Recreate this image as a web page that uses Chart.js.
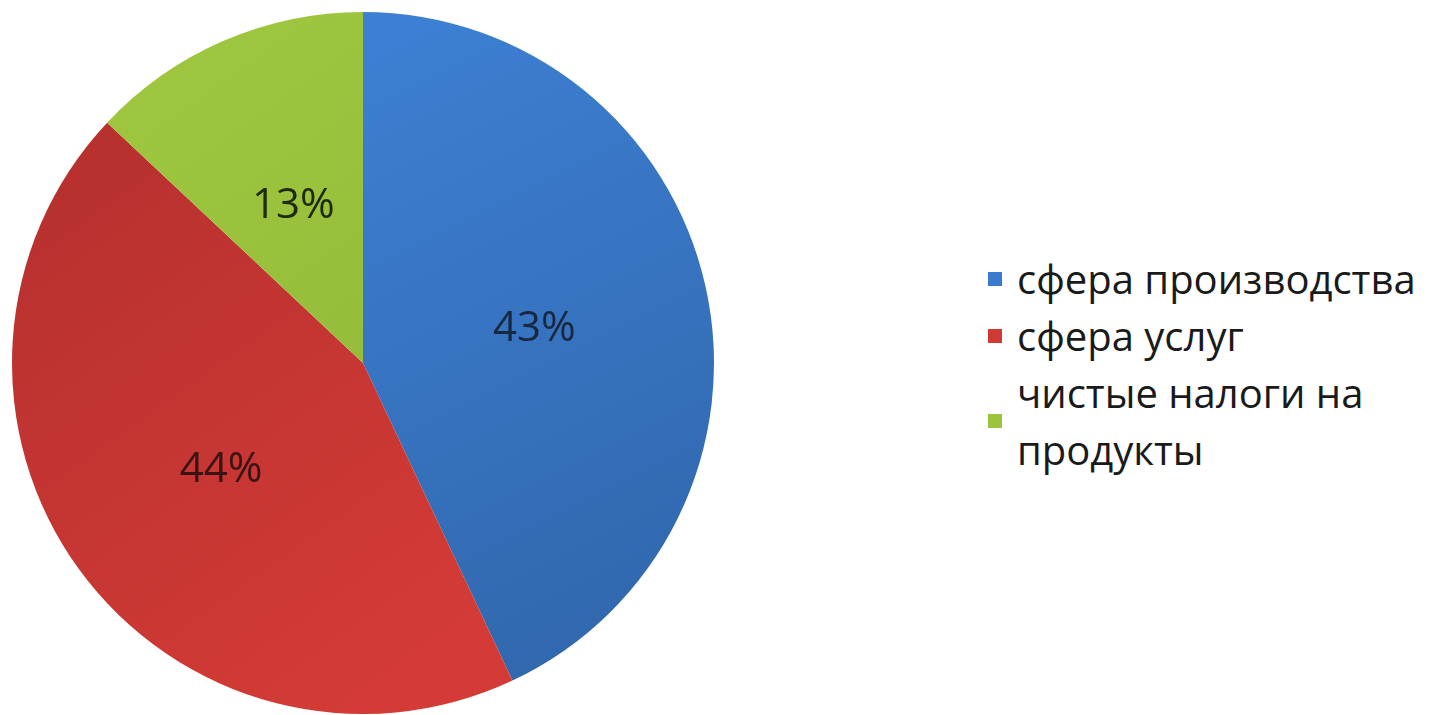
<!DOCTYPE html>
<html>
<head>
<meta charset="utf-8">
<script src="https://cdn.jsdelivr.net/npm/chart.js@4.4.1/dist/chart.umd.min.js"></script>
<style>
  html, body { margin: 0; padding: 0; background: #fff; }
  #page { position: relative; width: 1447px; height: 715px; overflow: hidden; }
  #pie { position: absolute; left: 12px; top: 12px; width: 702px; height: 702px; }
  #legend { position: absolute; left: 988px; top: 250px; font-family: "Open Sans", sans-serif; font-size: 40px; color: #1a1a1a; }
  .item { display: flex; align-items: center; line-height: 57px; }
  .box { width: 14px; height: 14px; margin-right: 15px; flex: none; }
</style>
</head>
<body>
<div id="page">
  <div id="pie"><canvas id="c"></canvas></div>
  <div id="legend"></div>
</div>
<script>
let labels = ['сфера производства', 'сфера услуг', 'чистые налоги на продукты'];
let legendLines = [['сфера производства'], ['сфера услуг'], ['чистые налоги на', 'продукты']];
let values = [43, 44, 13];
let colors = ['#3a7bcf', '#d03a35', '#9cc43c'];
let shades = [['#3d80d4', '#2f64a8'], ['#b8312f', '#d43b36'], ['#9dc53d', '#8fb638']];
let labelColors = ['#17283f', '#3a1414', '#1e2a0e'];

let legend = document.getElementById('legend');
legendLines.forEach((lines, i) => {
    let item = document.createElement('div');
    item.className = 'item';
    let box = document.createElement('div');
    box.className = 'box';
    box.style.background = colors[i];
    let txt = document.createElement('div');
    txt.innerHTML = lines.join('<br>');
    item.appendChild(box);
    item.appendChild(txt);
    legend.appendChild(item);
});

let pctLabels = {
    id: 'pctLabels',
    afterDatasetsDraw(chart) {
        let ctx = chart.ctx;
        let meta = chart.getDatasetMeta(0);
        ctx.save();
        ctx.font = '42px "Open Sans", sans-serif';
        ctx.textAlign = 'center';
        ctx.textBaseline = 'middle';
        meta.data.forEach((arc, i) => {
            let p = arc.getCenterPoint();
            ctx.fillStyle = labelColors[i];
            ctx.fillText(values[i] + '%', p.x, p.y + 4);
        });
        ctx.restore();
    }
};

let shade = function(context) {
    let chart = context.chart;
    let area = chart.chartArea;
    if (!area) return colors[context.dataIndex];
    let s = shades[context.dataIndex];
    let g;
    if (context.dataIndex === 0) {
        g = chart.ctx.createLinearGradient(area.left + area.width / 2, area.top, area.right, area.bottom);
    } else {
        g = chart.ctx.createLinearGradient(area.left, area.top + area.height * 0.3, area.left + area.width * 0.5, area.bottom);
    }
    g.addColorStop(0, s[0]);
    g.addColorStop(1, s[1]);
    return g;
};

new Chart(document.getElementById('c'), {
    type: 'pie',
    data: {
        labels: labels,
        datasets: [{
            data: values,
            backgroundColor: shade,
            borderWidth: 0
        }]
    },
    options: {
        responsive: true,
        maintainAspectRatio: false,
        animation: false,
        layout: { padding: 0 },
        plugins: {
            legend: { display: false },
            tooltip: { enabled: false }
        }
    },
    plugins: [pctLabels]
});
</script>
</body>
</html>
